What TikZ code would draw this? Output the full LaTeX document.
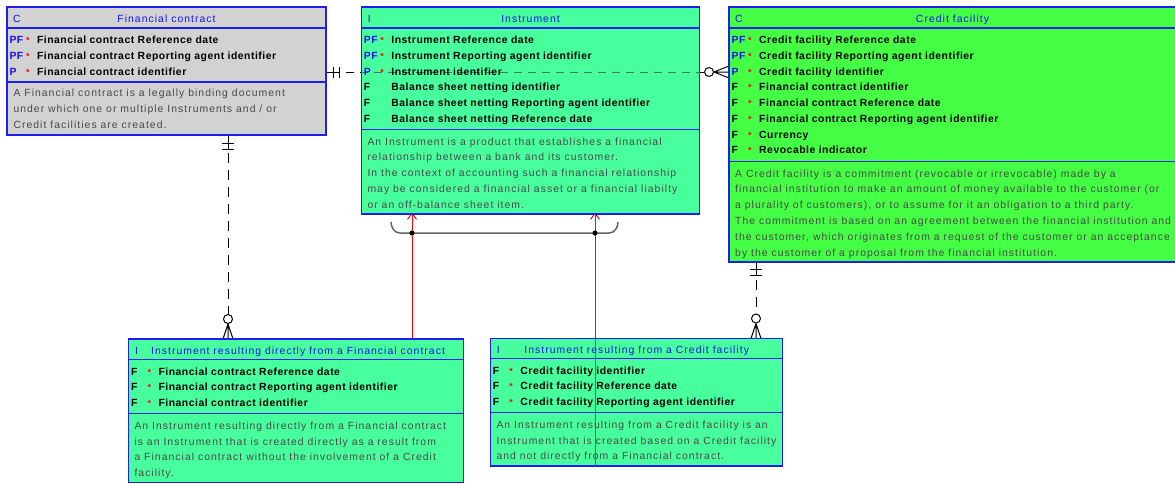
\documentclass[tikz,border=0pt]{standalone}
\usepackage{fontspec}
\setmainfont{Liberation Sans}
\newfontfamily\attrfam[LetterSpace=5]{Liberation Sans}
\newfontfamily\descfam[LetterSpace=10]{Liberation Sans}
\usetikzlibrary{arrows.meta}
\pgfdeclarelayer{back}
\pgfsetlayers{back,main}

\definecolor{bordblue}{RGB}{30,30,240}
\definecolor{hdrblue}{RGB}{20,20,235}
\definecolor{keyblue}{RGB}{20,20,235}
\definecolor{fcgray}{RGB}{210,210,210}
\definecolor{insgreen}{RGB}{72,255,158}
\definecolor{cfgreen}{RGB}{68,255,68}
\definecolor{descgray}{RGB}{72,72,72}
\definecolor{braceg}{RGB}{100,100,100}
\definecolor{traceg}{RGB}{70,120,95}

\tikzset{
  entity/.style={draw=bordblue, line width=1.2pt, inner sep=0pt, outer sep=0pt, anchor=north west},
  divider/.style={draw=bordblue, line width=1.2pt},
  hdrtxt/.style={anchor=base, inner sep=0pt, text=hdrblue, font=\descfam\fontsize{10.4}{12}\selectfont},
  kindtxt/.style={anchor=base west, inner sep=0pt, text=hdrblue, font=\descfam\fontsize{10.4}{12}\selectfont},
  keytxt/.style={anchor=base west, inner sep=0pt, font=\attrfam\bfseries\fontsize{10.4}{12}\selectfont},
  startxt/.style={anchor=base west, inner sep=0pt, text=red, font=\attrfam\bfseries\fontsize{9}{12}\selectfont},
  attrtxt/.style={anchor=base west, inner sep=0pt, font=\attrfam\bfseries\fontsize{10.4}{12}\selectfont},
  desctxt/.style={anchor=base west, inner sep=0pt, text=descgray, font=\descfam\fontsize{10.4}{12}\selectfont},
  rel/.style={line width=1pt, black},
  reldash/.style={rel, dash pattern=on 8pt off 6pt},
  relvdash/.style={rel, dash pattern=on 10pt off 7pt},
  subarrow/.style={red, line width=1pt, -{Straight Barb[length=6pt,width=9pt]}},
  joindot/.style={circle, fill=black, inner sep=0pt, minimum size=5pt},
}

% rows of an entity: key / key colour / mandatory mark / attribute name
\newcommand\attrlist[4]{%
  \foreach \keyv/\keyc/\starv/\namev [count=\n from 0] in {#4}{%
    \node[keytxt, text=\keyc] (#1-key\n) at ({#2+2},{#3+15.75*\n}) {\keyv};
    \node[startxt] (#1-star\n) at ({#2+18.5},{#3+15.75*\n}) {\starv};
    \node[attrtxt] (#1-attr\n) at ({#2+29.5},{#3+15.75*\n}) {\namev};
  }}
% definition text of an entity, one node per line
\newcommand\desclist[4]{%
  \foreach \linev [count=\n from 0] in {#4}{%
    \node[desctxt] (#1-desc\n) at ({#2+6},{#3+15.8*\n}) {\linev};
  }}

\begin{document}
\begin{tikzpicture}[x=1pt,y=-1pt]
\useasboundingbox (0,0) rectangle (1175,483);

% ---------- entity boxes ----------
\node[entity, fill=fcgray,   minimum width=319pt, minimum height=128pt]   (fc)   at (7,7) {};
\node[entity, fill=insgreen, minimum width=338pt, minimum height=207pt]   (ins)  at (361.5,7) {};
\node[entity, fill=cfgreen,  minimum width=447pt, minimum height=255pt]   (cf)   at (729,7) {};
\node[entity, fill=insgreen, minimum width=335pt, minimum height=143.5pt] (irfc) at (128.5,339) {};
\node[entity, fill=insgreen, minimum width=292pt, minimum height=127.5pt] (ircf) at (490.5,338.5) {};

\draw[divider] (fc.west |- 0,28) -- (fc.east |- 0,28);
\draw[divider] (fc.west |- 0,82) -- (fc.east |- 0,82);
\draw[divider] (ins.west |- 0,28) -- (ins.east |- 0,28);
\draw[divider] (ins.west |- 0,129.5) -- (ins.east |- 0,129.5);
\draw[divider] (cf.west |- 0,28) -- (cf.east |- 0,28);
\draw[divider] (cf.west |- 0,161.5) -- (cf.east |- 0,161.5);
\draw[divider] (irfc.west |- 0,359.5) -- (irfc.east |- 0,359.5);
\draw[divider] (irfc.west |- 0,413.5) -- (irfc.east |- 0,413.5);
\draw[divider] (ircf.west |- 0,358.5) -- (ircf.east |- 0,358.5);
\draw[divider] (ircf.west |- 0,412.5) -- (ircf.east |- 0,412.5);

% ---------- relationships (behind the boxes) ----------
\coordinate (fcR)   at (fc.east |- 0,72);
\coordinate (cfL)   at (cf.west |- 0,72);
\coordinate (fcB)   at (228,0 |- fc.south);
\coordinate (irfcT) at (228,0 |- irfc.north);
\coordinate (cfB)   at (756,0 |- cf.south);
\coordinate (ircfT) at (756,0 |- ircf.north);
\coordinate (subA)  at (412,0 |- irfc.north);
\coordinate (subB)  at (595,0 |- ircf.south);
\coordinate (subBt) at (595,0 |- ircf.north);
\coordinate (insA)  at (412,0 |- ins.south);
\coordinate (insB)  at (595,0 |- ins.south);

\begin{pgfonlayer}{back}
  % Financial contract -- Credit facility
  \draw[rel] (fcR) -- ++(14,0);
  \draw[rel] (fcR) ++(7,-5.5) -- ++(0,11) (fcR) ++(13,-5.5) -- ++(0,11);
  \draw[reldash, dash phase=8pt] (fcR) ++(14,0) -- ([xshift=-25pt]cfL);
  \draw[rel] ([xshift=-20pt]cfL) circle (4.5);
  \draw[rel] ([xshift=-15pt]cfL) -- (cfL)
             ([xshift=-15pt]cfL) -- ++(15,-6)
             ([xshift=-15pt]cfL) -- ++(15,6);
  % Financial contract -- Instrument resulting directly from a Financial contract
  \draw[rel] (fcB) -- ++(0,14);
  \draw[rel] (fcB) ++(-6,8) -- ++(12,0) (fcB) ++(-6,14) -- ++(12,0);
  \draw[relvdash] (fcB) ++(0,18) -- ([yshift=25pt]irfcT);
  \draw[rel] ([yshift=20pt]irfcT) circle (4.5);
  \draw[rel] ([yshift=15pt]irfcT) -- (irfcT)
             ([yshift=15pt]irfcT) -- ++(-5,15)
             ([yshift=15pt]irfcT) -- ++(5,15);
  % Credit facility -- Instrument resulting from a Credit facility
  \draw[rel] (cfB) -- ++(0,14);
  \draw[rel] (cfB) ++(-6,7) -- ++(12,0) (cfB) ++(-6,13) -- ++(12,0);
  \draw[relvdash] (cfB) ++(0,18) -- ([yshift=25pt]ircfT);
  \draw[rel] ([yshift=20pt]ircfT) circle (4.5);
  \draw[rel] ([yshift=15pt]ircfT) -- (ircfT)
             ([yshift=15pt]ircfT) -- ++(-5,15)
             ([yshift=15pt]ircfT) -- ++(5,15);
  % subtypes of Instrument
  \draw[subarrow, shorten >=-1.5pt] (subA) -- (insA);
  \draw[subarrow, shorten >=-1.5pt] (subB) -- (insB);
\end{pgfonlayer}

% faint traces of the lines crossing the boxes
\begin{scope}
  \clip (ins.north west) rectangle (ins.south east);
  \draw[reldash, dash phase=8pt, draw=traceg] (fcR) ++(14,0) -- ([xshift=-25pt]cfL);
\end{scope}
\draw[line width=1pt, traceg] (subBt) -- (subB);

% exclusive subtype bracket
\draw[braceg, line width=1.5pt] (391,222) to[out=-90,in=180] (400,233) -- (609,233) to[out=0,in=-90] (618,222);
\node[joindot] (jA) at (412,233) {};
\node[joindot] (jB) at (595,233) {};

% ---------- texts ----------
\node[kindtxt] (fc-kind) at (13,22.7) {C};
\node[hdrtxt] (fc-title) at (166.5,22.7) {Financial contract};
\attrlist{fc}{7.3}{43.5}{PF/keyblue/*/Financial contract Reference date,
  PF/keyblue/*/Financial contract Reporting agent identifier,
  P/keyblue/*/Financial contract identifier}
\desclist{fc}{7.3}{96.7}{{A Financial contract is a legally binding document},
  {under which one or multiple Instruments and / or},
  {Credit facilities are created.}}

\node[kindtxt] (ins-kind) at (367.7,22.7) {I};
\node[hdrtxt] (ins-title) at (530.5,22.7) {Instrument};
\attrlist{ins}{361.7}{43.5}{PF/keyblue/*/Instrument Reference date,
  PF/keyblue/*/Instrument Reporting agent identifier,
  P/keyblue/*/Instrument identifier,
  F/black//Balance sheet netting identifier,
  F/black//Balance sheet netting Reporting agent identifier,
  F/black//Balance sheet netting Reference date}
\desclist{ins}{361.3}{145}{{An Instrument is a product that establishes a financial},
  {relationship between a bank and its customer.},
  {In the context of accounting such a financial relationship},
  {may be considered a financial asset or a financial liabilty},
  {or an off-balance sheet item.}}

\node[kindtxt] (cf-kind) at (735,22.7) {C};
\node[hdrtxt] (cf-title) at (952.5,22.7) {Credit facility};
\attrlist{cf}{729.5}{43.5}{PF/keyblue/*/Credit facility Reference date,
  PF/keyblue/*/Credit facility Reporting agent identifier,
  P/keyblue/*/Credit facility identifier,
  F/black/*/Financial contract identifier,
  F/black/*/Financial contract Reference date,
  F/black/*/Financial contract Reporting agent identifier,
  F/black/*/Currency,
  F/black/*/Revocable indicator}
\desclist{cf}{729}{177}{{A Credit facility is a commitment (revocable or irrevocable) made by a},
  {financial institution to make an amount of money available to the customer (or},
  {a plurality of customers), or to assume for it an obligation to a third party.},
  {The commitment is based on an agreement between the financial institution and},
  {the customer, which originates from a request of the customer or an acceptance},
  {by the customer of a proposal from the financial institution.}}

\node[kindtxt] (irfc-kind) at (135,354) {I};
\node[hdrtxt] (irfc-title) at (298,354) {Instrument resulting directly from a Financial contract};
\attrlist{irfc}{128.8}{375}{F/black/*/Financial contract Reference date,
  F/black/*/Financial contract Reporting agent identifier,
  F/black/*/Financial contract identifier}
\desclist{irfc}{128.3}{429.3}{{An Instrument resulting directly from a Financial contract},
  {is an Instrument that is created directly as a result from},
  {a Financial contract without the involvement of a Credit},
  {facility.}}

\node[kindtxt] (ircf-kind) at (496.7,353) {I};
\node[hdrtxt] (ircf-title) at (636.7,353) {Instrument resulting from a Credit facility};
\attrlist{ircf}{490.7}{374}{F/black/*/Credit facility identifier,
  F/black/*/Credit facility Reference date,
  F/black/*/Credit facility Reporting agent identifier}
\desclist{ircf}{490.3}{428.3}{{An Instrument resulting from a Credit facility is an},
  {Instrument that is created based on a Credit facility},
  {and not directly from a Financial contract.}}
\end{tikzpicture}
\end{document}
